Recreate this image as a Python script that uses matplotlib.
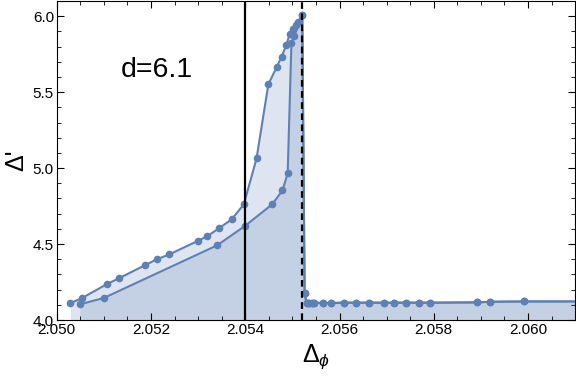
import numpy as np
import matplotlib.pyplot as plt
from matplotlib.ticker import MultipleLocator

plt.rcParams['font.family'] = ['Liberation Sans', 'DejaVu Sans']
plt.rcParams['mathtext.fontset'] = 'custom'
plt.rcParams['mathtext.rm'] = 'Liberation Sans'
plt.rcParams['mathtext.it'] = 'Liberation Sans:italic'

# upper branch (bottom-left up to the tip)
upper_x = [2.05029, 2.05054, 2.05107, 2.05133, 2.05187, 2.05212, 2.05239, 2.05299,
           2.05319, 2.05344, 2.05371, 2.05397, 2.05424, 2.05449, 2.05467, 2.05477,
           2.05487, 2.05494, 2.05502, 2.05507, 2.05512, 2.05521]
upper_y = [4.110, 4.145, 4.237, 4.276, 4.360, 4.399, 4.432, 4.520,
           4.551, 4.603, 4.662, 4.761, 5.064, 5.551, 5.667, 5.732,
           5.809, 5.880, 5.913, 5.941, 5.962, 6.007]

# lower branch
lower_x = [2.05049, 2.05100, 2.05340, 2.05399, 2.05457, 2.05479, 2.05490,
           2.05498, 2.05504, 2.05521]
lower_y = [4.103, 4.145, 4.491, 4.618, 4.761, 4.853, 4.965,
           5.824, 5.868, 6.007]

# drop after the tip and flat tail (shared by both branches)
tail_x = [2.05526, 2.05530, 2.05535, 2.05542, 2.05546, 2.05565, 2.05582, 2.05609,
          2.05635, 2.05662, 2.05695, 2.05716, 2.05740, 2.05768, 2.05793, 2.05891,
          2.05919, 2.05991, 2.0620]
tail_y = [4.176, 4.114, 4.113, 4.113, 4.114, 4.112, 4.112, 4.114,
          4.114, 4.114, 4.114, 4.114, 4.114, 4.114, 4.114, 4.116,
          4.120, 4.122, 4.122]

solid_line_x = 2.0540
dashed_line_x = 2.05521
label = "d=6.1"

blue = '#5E81B5'

fig = plt.figure(figsize=(5.76, 3.8), dpi=100)
ax = fig.add_axes([56.7 / 576, 60 / 380, 518.5 / 576, 319 / 380])

for bx, by in [(upper_x, upper_y), (lower_x, lower_y)]:
    xs = np.array(bx + tail_x)
    ys = np.array(by + tail_y)
    ax.fill_between(xs, 4.0, ys, color=blue, alpha=0.2, linewidth=0)
    ax.plot(xs, ys, color=blue, lw=1.5, marker='o', ms=4.5, zorder=3)

ax.axvline(solid_line_x, color='black', lw=1.6, zorder=4)
ax.axvline(dashed_line_x, color='black', lw=1.6, ls=(0, (3, 2)), zorder=4)

ax.text(2.05213, 5.645, label, fontsize=20.5, ha='center', va='center')

ax.set_xlim(2.050, 2.061)
ax.set_ylim(4.0, 6.1)
ax.xaxis.set_major_locator(MultipleLocator(0.002))
ax.xaxis.set_minor_locator(MultipleLocator(0.0005))
ax.yaxis.set_major_locator(MultipleLocator(0.5))
ax.yaxis.set_minor_locator(MultipleLocator(0.1))
ax.xaxis.set_major_formatter(plt.FuncFormatter(lambda v, p: f"{v:.3f}"))
ax.yaxis.set_major_formatter(plt.FuncFormatter(lambda v, p: f"{v:.1f}"))
ax.tick_params(which='both', direction='in', top=True, right=True, labelsize=11, pad=2)
ax.tick_params(which='major', length=5)
ax.tick_params(which='minor', length=3)

ax.set_xlabel(r"$\mathrm{\Delta}_{\phi}$", fontsize=18, labelpad=4)
ax.set_ylabel("Δ'", fontsize=18, labelpad=3)

fig.savefig('out.png', dpi=100)
